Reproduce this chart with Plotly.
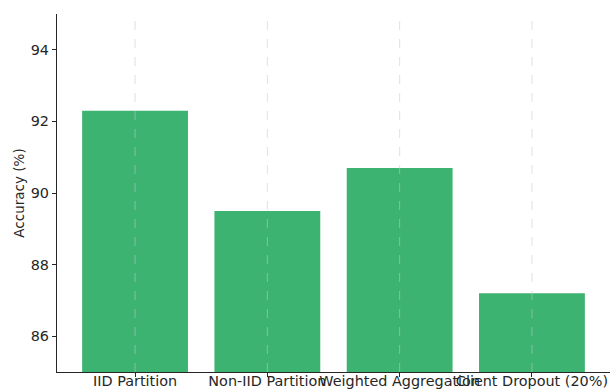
import plotly.graph_objects as go

categories = ["IID Partition", "Non-IID Partition", "Weighted Aggregation", "Client Dropout (20%)"]
accuracy = [92.3, 89.5, 90.7, 87.2]
y_ticks = [86, 88, 90, 92, 94]

fig = go.Figure()
fig.add_trace(go.Bar(
    x=categories, y=accuracy, width=0.8,
    marker=dict(color="#3cb371", line=dict(width=0)),
))

# vertical dashed grid lines drawn above bars (as in the reference)
for c in categories:
    fig.add_shape(type="line", xref="x", yref="paper", x0=c, x1=c, y0=0, y1=1,
                  line=dict(color="rgba(200,200,200,0.55)", width=1, dash="dash"), layer="above")

fig.update_layout(
    width=612, height=391,
    margin=dict(l=57, r=2, t=14, b=19),
    paper_bgcolor="white", plot_bgcolor="white",
    font=dict(family="DejaVu Sans", size=14.4, color="#262626"),
    showlegend=False,
    bargap=0.2,
)
fig.update_xaxes(
    range=[-0.59, 3.59], tickangle=0,
    showline=True, linecolor="#262626", linewidth=1.2,
    ticks="outside", ticklen=4, tickcolor="#262626",
    ticklabelstandoff=-8,
    showgrid=False, automargin=False,
)
fig.update_yaxes(
    range=[85, 95], tickvals=y_ticks,
    showline=True, linecolor="#262626", linewidth=1.2,
    ticks="outside", ticklen=4, tickcolor="#262626",
    showgrid=False, zeroline=False,
    title=dict(text="Accuracy (%)", standoff=2, font=dict(size=13.5)),
    automargin=False,
)

fig.write_html("out.html")
